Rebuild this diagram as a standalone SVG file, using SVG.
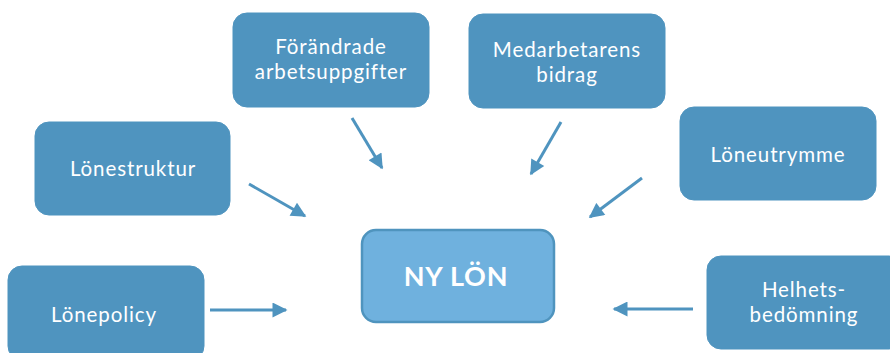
<svg xmlns="http://www.w3.org/2000/svg" width="890" height="353" viewBox="0 0 890 353">
<defs>
<style>
.box{fill:#4f94bf;stroke:#4f94bf;stroke-width:1}
.t{font-family:Lato,"Open Sans",sans-serif;font-size:20.5px;letter-spacing:0.9px;fill:#ffffff;text-anchor:middle}
.c{stroke:#4f94bf;stroke-width:3;fill:none;marker-end:url(#ah)}
</style>
<marker id="ah" viewBox="0 0 10 10" refX="9" refY="5" markerWidth="5.5" markerHeight="5" orient="auto" markerUnits="strokeWidth">
<path d="M0,0 L10,5 L0,10 z" fill="#4f94bf"/>
</marker>
</defs>
<rect width="890" height="353" fill="#ffffff"/>
<g id="connectors">
<line class="c" x1="352" y1="118" x2="382" y2="168"/>
<line class="c" x1="561" y1="122" x2="531" y2="174"/>
<line class="c" x1="249" y1="184" x2="305" y2="216"/>
<line class="c" x1="642" y1="178" x2="590" y2="217"/>
<line class="c" x1="210" y1="310" x2="286" y2="310"/>
<line class="c" x1="693" y1="309" x2="614" y2="309"/>
</g>
<g id="ny-lon">
<rect x="362" y="230" width="192" height="92" rx="14" fill="#6fb1de" stroke="#4f94be" stroke-width="2.5"/>
<text x="456" y="286" font-family="Lato,'Open Sans',sans-serif" font-size="27" font-weight="bold" letter-spacing="0.8" fill="#ffffff" text-anchor="middle">NY LÖN</text>
</g>
<g id="forandrade">
<rect class="box" x="233" y="13" width="196" height="94" rx="14"/>
<text class="t" x="331" y="54">Förändrade</text>
<text class="t" x="331" y="79">arbetsuppgifter</text>
</g>
<g id="medarbetarens">
<rect class="box" x="469" y="14" width="196" height="94" rx="14"/>
<text class="t" x="567" y="57">Medarbetarens</text>
<text class="t" x="567" y="82">bidrag</text>
</g>
<g id="lonestruktur">
<rect class="box" x="35" y="122" width="195" height="93" rx="14"/>
<text class="t" x="133" y="176">Lönestruktur</text>
</g>
<g id="loneutrymme">
<rect class="box" x="680" y="107" width="196" height="93" rx="14"/>
<text class="t" x="778" y="162">Löneutrymme</text>
</g>
<g id="lonepolicy">
<rect class="box" x="8" y="266" width="196" height="94" rx="14"/>
<text class="t" x="104" y="322">Lönepolicy</text>
</g>
<g id="helhets">
<rect class="box" x="707" y="256" width="196" height="93" rx="14"/>
<text class="t" x="804" y="297">Helhets-</text>
<text class="t" x="804" y="322">bedömning</text>
</g>
</svg>
